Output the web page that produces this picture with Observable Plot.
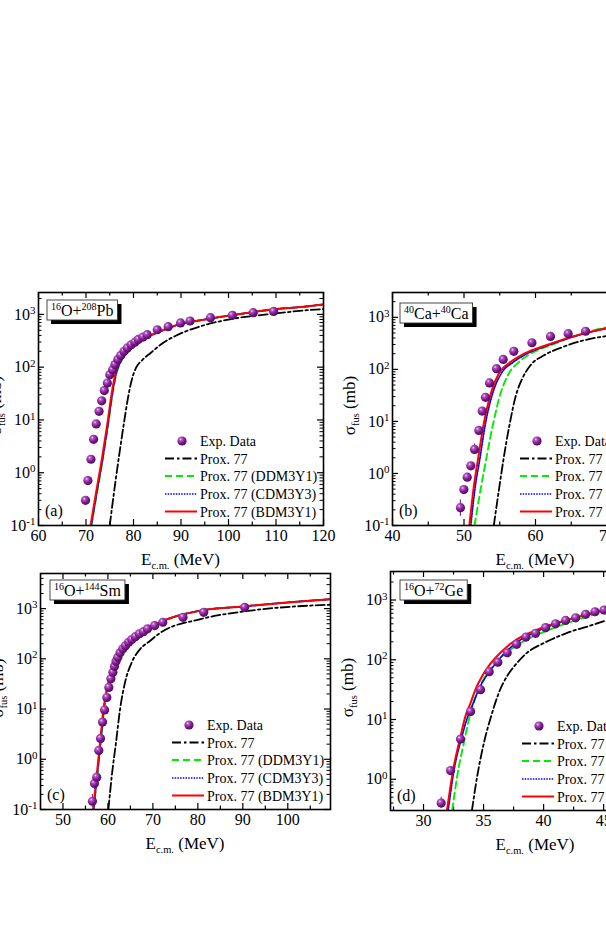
<!DOCTYPE html>
<html><head><meta charset="utf-8">
<script src="https://cdn.jsdelivr.net/npm/d3@7"></script>
<script src="https://cdn.jsdelivr.net/npm/@observablehq/plot@0.6"></script>
<style>
body{margin:0;background:#fff;}
#fig{position:relative;width:606px;height:935px;overflow:hidden;background:#fff;}
</style></head><body><div id="fig"></div>
<script>
const FONT = "Liberation Serif";
const legendLabels = ["Exp. Data", "Prox. 77", "Prox. 77 (DDM3Y1)", "Prox. 77 (CDM3Y3)", "Prox. 77 (BDM3Y1)"];

// ---------- (a) 16O+208Pb ----------
const aTitle = [["16",1],["O+",0],["208",1],["Pb",0]];
const aXTicks = [60, 70, 80, 90, 100, 110, 120];
const aXMinor = [65, 75, 85, 95, 105, 115];
const aYTicks = [0.1, 1, 10, 100, 1000];
const aExp = [[69.9,0.3],[70.4,0.71],[71.05,1.8],[71.6,4.3],[72.15,8.4],[72.75,14.6],[73.3,23],[73.85,36],[74.5,50],[75.0,72],[75.6,89],[76.1,112],[76.7,140],[77.3,166],[78.0,200],[78.7,232],[79.5,265],[80.3,298],[81.0,335],[82.0,372],[82.9,412],[85.0,512],[87.3,585],[89.9,690],[91.9,750],[96.2,865],[100.8,960],[105.2,1080],[109.5,1140]];
const aProx77 = [[75.0,0.1],[76.0,0.5],[77.0,2.2],[78.0,8.9],[78.8,25],[79.6,56],[80.6,100],[81.8,135],[83.6,186],[85.9,275],[89.0,398],[91.3,490],[95.5,646],[101.1,832],[108.1,1000],[116.6,1200],[120,1260]];
const aDDM3Y1 = [[71.15,0.1],[72.4,0.46],[73.6,1.95],[74.7,8.5],[75.7,36],[76.4,75],[77.1,115],[78.5,178],[80.3,257],[83.0,372],[87.1,537],[89.9,661],[94.1,776],[102.5,1020],[110,1260],[115.2,1380],[120,1540]];
const aCDM3Y3 = [[71.1,0.1],[72.35,0.46],[73.55,1.95],[74.65,8.5],[75.65,36],[76.35,75],[77.05,115],[78.45,178],[80.25,257],[83.0,372],[87.1,537],[89.9,661],[94.1,776],[102.5,1020],[110,1260],[115.2,1380],[120,1545]];
const aBDM3Y1 = [[70.95,0.1],[72.2,0.46],[73.4,1.95],[74.5,8.5],[75.5,36],[76.2,75],[76.9,115],[78.3,178],[80.1,257],[82.9,372],[87.1,537],[89.9,661],[94.1,776],[102.5,1020],[110,1260],[115.2,1380],[120,1550]];
const aErr = [];

// ---------- (b) 40Ca+40Ca ----------
const bTitle = [["40",1],["Ca+",0],["40",1],["Ca",0]];
const bXTicks = [40, 50, 60, 70, 80];
const bXMinor = [45, 55, 65, 75];
const bYTicks = [0.1, 1, 10, 100, 1000];
const bExp = [[49.5,0.22],[49.98,0.49],[50.45,0.85],[50.95,1.4],[51.47,2.9],[52.07,6.7],[52.54,15.8],[53.0,29],[53.57,55],[54.55,103],[55.48,155],[56.97,222],[59.5,325],[62.1,430],[64.57,485],[67.0,540]];
const bProx77 = [[54.17,0.1],[54.87,0.47],[55.57,2.04],[56.4,9.1],[57.2,29.5],[58.14,66],[59.3,120],[61.2,186],[64.0,275],[66.8,363],[70,440],[75,560],[80,680]];
const bDDM3Y1 = [[51.47,0.1],[52.3,0.47],[53.15,2.04],[54.08,9.1],[55.1,34],[56.27,83],[57.67,138],[59.3,200],[62.1,290],[64.9,405],[68.6,585],[75,780],[80,940]];
const bCDM3Y3 = [[50.95,0.1],[51.5,0.47],[52.25,2.04],[53.0,9.1],[54.15,40],[55.2,83],[56.9,138],[58.8,200],[61.7,288],[65.1,417],[69.6,600],[75,794],[80,955]];
const bBDM3Y1 = [[50.75,0.1],[51.3,0.47],[52.0,2.04],[52.77,9.1],[53.9,40],[54.87,83],[56.5,138],[58.4,200],[61.4,288],[64.9,417],[69.6,603],[75,794],[80,955]];
const bErr = [[49.5,0.15,0.31],[51.47,2.3,3.7],[52.54,13.5,18.5]];

// ---------- (c) 16O+144Sm ----------
const cTitle = [["16",1],["O+",0],["144",1],["Sm",0]];
const cXTicks = [50, 60, 70, 80, 90, 100];
const cXMinor = [55, 65, 75, 85, 95, 105];
const cYTicks = [0.1, 1, 10, 100, 1000];
const cExp = [[56.55,0.146],[57.0,0.33],[57.5,0.44],[57.97,1.5],[58.35,2.6],[58.8,5.5],[59.25,9.6],[59.75,17],[60.2,27],[60.65,40],[61.1,54],[61.45,71],[61.8,89],[62.2,107],[62.7,132],[63.3,158],[63.9,183],[64.6,214],[65.3,242],[66.1,276],[67.0,314],[67.9,348],[68.8,395],[70.4,460],[72.2,535],[76.7,670],[81.3,845],[90.4,1060]];
const cProx77 = [[60.1,0.1],[60.87,0.48],[61.8,2.19],[62.7,10],[63.8,34],[65.3,85],[67.2,158],[69.4,229],[71.65,331],[80.6,617],[91.7,912],[105.1,1150],[110,1200]];
const cDDM3Y1 = [[56.85,0.1],[57.65,0.48],[58.42,2.19],[59.17,10],[60.27,34],[61.05,54],[61.95,91],[63.2,145],[65.05,224],[67.2,316],[70.5,479],[80.6,912],[90,1100],[100,1330],[110,1550]];
const cCDM3Y3 = [[56.8,0.1],[57.6,0.48],[58.37,2.19],[59.1,10],[60.2,34],[61.0,54],[61.9,91],[63.15,145],[65.0,224],[67.2,316],[70.5,479],[80.6,912],[90,1100],[100,1330],[110,1550]];
const cBDM3Y1 = [[56.7,0.1],[57.5,0.48],[58.26,2.19],[59.0,10],[60.1,34],[60.9,54],[61.8,91],[63.1,145],[65.0,224],[67.2,316],[70.5,479],[80.6,912],[90,1100],[100,1330],[110,1550]];
const cErr = [[56.55,0.11,0.2],[57.0,0.25,0.42]];

// ---------- (d) 16O+72Ge ----------
const dTitle = [["16",1],["O+",0],["72",1],["Ge",0]];
const dXTicks = [30, 35, 40, 45, 50];
const dXMinor = [27.5, 32.5, 37.5, 42.5, 47.5];
const dYTicks = [1, 10, 100, 1000];
const dExp = [[31.47,0.40],[32.25,1.4],[33.08,4.7],[33.92,13.6],[34.75,31.6],[35.47,63],[36.19,91],[36.97,131],[37.75,181],[38.53,240],[39.33,277],[40.17,345],[41.0,400],[41.83,456],[42.67,503],[43.5,575],[44.28,636],[45.03,680]];
const dProx77 = [[34.03,0.3],[34.47,1.12],[35.03,4.07],[35.64,11.5],[36.28,28.2],[36.97,53.7],[37.67,83],[38.64,132],[40.03,191],[41.97,282],[44.19,389],[45.25,457],[48,570],[51.4,680]];
const dDDM3Y1 = [[32.39,0.3],[32.8,1.12],[33.36,4.07],[33.92,12.9],[34.47,28.2],[35.17,53.7],[36.14,95.5],[37.25,148],[38.64,219],[40.58,324],[42.53,447],[44.75,617],[48,800],[51.4,960]];
const dCDM3Y3 = [[32.05,0.3],[32.55,1.45],[33.2,5.2],[33.7,11.5],[34.15,19],[34.6,32],[35.25,54],[35.85,79],[36.8,132],[37.9,204],[39.5,302],[41.3,417],[43.15,537],[45.05,676],[48,850],[51.4,1000]];
const dBDM3Y1 = [[31.95,0.3],[32.47,1.45],[33.08,5.2],[33.5,11.5],[33.92,19],[34.33,32],[34.9,54],[35.44,79],[36.42,132],[37.53,204],[39.2,302],[41.14,417],[43.08,537],[45.03,676],[48,850],[51.4,1000]];
const dErr = [[31.47,0.33,0.5]];

// ---------- drawing ----------
const seriesStyles = [
  {stroke: "#000000", strokeWidth: 1.8, strokeDasharray: "9,3,2.5,3"},
  {stroke: "#00ee00", strokeWidth: 1.9, strokeDasharray: "7,4"},
  {stroke: "#0000ff", strokeWidth: 1.7, strokeDasharray: "1.5,1.2"},
  {stroke: "#ff0000", strokeWidth: 2}
];

const fig = document.getElementById("fig");

function drawPanel(cfg) {
  const mL = 60, mR = 40, mT = 12, mB = 52;
  const W = cfg.w, H = cfg.h;
  const [x0, x1] = cfg.xDomain, [y0, y1] = cfg.yDomain;
  const inX = v => v >= x0 - 1e-9 && v <= x1 + 1e-9;
  const xMajor = cfg.xTicks.filter(inX);
  const xMinor = cfg.xMinor.filter(inX);
  const yMajor = cfg.yTicks.filter(v => v >= y0 && v <= y1);
  const yMinor = [];
  for (let e = -2; e <= 4; e++) for (let k = 2; k <= 9; k++) {
    const v = k * Math.pow(10, e);
    if (v > y0 && v < y1) yMinor.push(v);
  }
  const rows = arr => arr.map(([E, S]) => ({E, S}));
  const tk = 6, mtk = 3.5, tw = 1.2;
  const marks = [
    Plot.ruleX(xMajor, {x: d => d, insetTop: H - tk, strokeWidth: tw}),
    Plot.ruleX(xMajor, {x: d => d, insetBottom: H - tk, strokeWidth: tw}),
    Plot.ruleX(xMinor, {x: d => d, insetTop: H - mtk, strokeWidth: tw}),
    Plot.ruleX(xMinor, {x: d => d, insetBottom: H - mtk, strokeWidth: tw}),
    Plot.ruleY(yMajor, {y: d => d, insetRight: W - tk, strokeWidth: tw}),
    Plot.ruleY(yMajor, {y: d => d, insetLeft: W - tk, strokeWidth: tw}),
    Plot.ruleY(yMinor, {y: d => d, insetRight: W - mtk, strokeWidth: 1}),
    Plot.ruleY(yMinor, {y: d => d, insetLeft: W - mtk, strokeWidth: 1})
  ];
  cfg.series.forEach((s, i) => {
    marks.push(Plot.line(rows(s), {x: "E", y: "S", curve: "monotone-x", clip: true, ...seriesStyles[i]}));
  });
  marks.push(Plot.ruleX(cfg.err.map(([E, lo, hi]) => ({E, lo, hi})), {x: "E", y1: "lo", y2: "hi", stroke: "#8a2a9a", strokeWidth: 1.2, clip: true}));
  marks.push(Plot.dot(rows(cfg.exp), {x: "E", y: "S", r: 4.6, fill: "#7d1f8e", stroke: "none", clip: true}));
  marks.push(Plot.frame({stroke: "#000", strokeWidth: 1.6}));

  const svg = Plot.plot({
    width: mL + W + mR, height: mT + H + mB,
    marginLeft: mL, marginRight: mR, marginTop: mT, marginBottom: mB,
    style: `background: transparent; font-family: '${FONT}'; font-size: 16px; color: #000; overflow: visible; max-width: none;`,
    x: {domain: cfg.xDomain, ticks: xMajor, tickSize: 0, tickPadding: 4, label: null, tickFormat: d => String(d)},
    y: {type: "log", domain: cfg.yDomain, ticks: yMajor, tickSize: 0, tickPadding: 3, label: null,
        tickFormat: d => "10|" + Math.round(Math.log10(d))},
    marks
  });
  svg.style.position = "absolute";
  svg.style.left = (cfg.left - mL) + "px";
  svg.style.top = (cfg.top - mT) + "px";
  fig.appendChild(svg);

  const root = d3.select(svg);
  // gradient for sphere markers
  const gid = "sph-" + cfg.id;
  const rg = root.insert("defs", ":first-child").append("radialGradient")
    .attr("id", gid).attr("cx", "36%").attr("cy", "32%").attr("r", "72%");
  [["0%", "#f3d2f7"], ["22%", "#b453c4"], ["60%", "#7c1a8c"], ["100%", "#4a0858"]]
    .forEach(([o, c]) => rg.append("stop").attr("offset", o).attr("stop-color", c));
  root.selectAll('g[aria-label="dot"] circle').attr("fill", `url(#${gid})`);

  // superscript y tick labels
  root.selectAll("text").each(function () {
    const t = this.textContent;
    if (/^10\|/.test(t)) {
      const ex = t.split("|")[1];
      const s = d3.select(this);
      s.text(null);
      s.append("tspan").text("10");
      s.append("tspan").attr("dy", "-0.5em").attr("font-size", "11px").text(ex);
    }
  });

  const g = root.append("g").attr("font-family", FONT).attr("fill", "#000").attr("text-anchor", "start");
  const fl = mL, ft = mT, fr = mL + W, fb = mT + H;

  // x title
  const xt = g.append("text").attr("x", fl + W / 2).attr("y", fb + 40)
    .attr("text-anchor", "middle").attr("font-size", 17);
  xt.append("tspan").text("E");
  xt.append("tspan").attr("font-size", 10.5).attr("dy", 4).text("c.m.");
  xt.append("tspan").attr("dy", -4).text(" (MeV)");

  // y title
  const yt = g.append("text")
    .attr("transform", `translate(${fl - 37},${ft + H / 2 - 3}) rotate(-90)`)
    .attr("text-anchor", "middle").attr("font-size", 17);
  yt.append("tspan").text("σ");
  yt.append("tspan").attr("font-size", 10.5).attr("dy", 4).text("fus");
  yt.append("tspan").attr("dy", -4).text(" (mb)");

  // title box
  const bx = fl + cfg.box[0], by = ft + cfg.box[1], bh = 20;
  const tb = g.append("g");
  const tt = tb.append("text").attr("x", bx + 4).attr("y", by + 16).attr("font-size", 16).attr("text-anchor", "start");
  let raised = false;
  cfg.title.forEach(([s, sup]) => {
    const ts = tt.append("tspan").text(s);
    if (sup) { ts.attr("font-size", 10).attr("dy", raised ? 0 : -6); raised = true; }
    else { ts.attr("dy", raised ? 6 : 0); raised = false; }
  });
  const bw = tt.node().getComputedTextLength() + 8;
  tb.insert("rect", "text").attr("x", bx + 4).attr("y", by + 4).attr("width", bw).attr("height", bh).attr("fill", "#000");
  tb.insert("rect", "text").attr("x", bx).attr("y", by).attr("width", bw).attr("height", bh)
    .attr("fill", "#fff").attr("stroke", "#333").attr("stroke-width", 0.9);

  // panel letter
  g.append("text").attr("x", fl + 7).attr("y", fb - 9).attr("font-size", 16).text(cfg.letter);

  // legend
  const rowY = [-84, -66.5, -49, -31, -13.5].map(v => fb + v);
  const lx0 = fr - 158, lx1 = fr - 126, mx = fr - 141, tx = fr - 123;
  g.append("circle").attr("cx", mx).attr("cy", rowY[0]).attr("r", 4.6).attr("fill", `url(#${gid})`);
  for (let i = 1; i < 5; i++) {
    const st = seriesStyles[i - 1];
    g.append("line").attr("x1", lx0).attr("x2", lx1).attr("y1", rowY[i]).attr("y2", rowY[i])
      .attr("stroke", st.stroke).attr("stroke-width", st.strokeWidth)
      .attr("stroke-dasharray", st.strokeDasharray || null);
  }
  legendLabels.forEach((lab, i) => {
    g.append("text").attr("x", tx).attr("y", rowY[i] + 5).attr("font-size", 14).text(lab);
  });
}

drawPanel({id: "a", left: 38, top: 292, w: 285, h: 233, xDomain: [60, 120], yDomain: [0.1, 2600],
  xTicks: aXTicks, xMinor: aXMinor, yTicks: aYTicks, exp: aExp, err: aErr,
  series: [aProx77, aDDM3Y1, aCDM3Y3, aBDM3Y1], title: aTitle, box: [9, 8], letter: "(a)"});
drawPanel({id: "b", left: 392, top: 292, w: 286, h: 233, xDomain: [40, 80], yDomain: [0.1, 3000],
  xTicks: bXTicks, xMinor: bXMinor, yTicks: bYTicks, exp: bExp, err: bErr,
  series: [bProx77, bDDM3Y1, bCDM3Y3, bBDM3Y1], title: bTitle, box: [8, 11], letter: "(b)"});
drawPanel({id: "c", left: 40, top: 573, w: 290, h: 236, xDomain: [45, 109.5], yDomain: [0.1, 5000],
  xTicks: cXTicks, xMinor: cXMinor, yTicks: cYTicks, exp: cExp, err: cErr,
  series: [cProx77, cDDM3Y1, cCDM3Y3, cBDM3Y1], title: cTitle, box: [10, 7], letter: "(c)"});
drawPanel({id: "d", left: 390, top: 571, w: 290, h: 239, xDomain: [27.25, 51.4], yDomain: [0.3, 3000],
  xTicks: dXTicks, xMinor: dXMinor, yTicks: dYTicks, exp: dExp, err: dErr,
  series: [dProx77, dDDM3Y1, dCDM3Y3, dBDM3Y1], title: dTitle, box: [10, 9], letter: "(d)"});
</script>
</body></html>
